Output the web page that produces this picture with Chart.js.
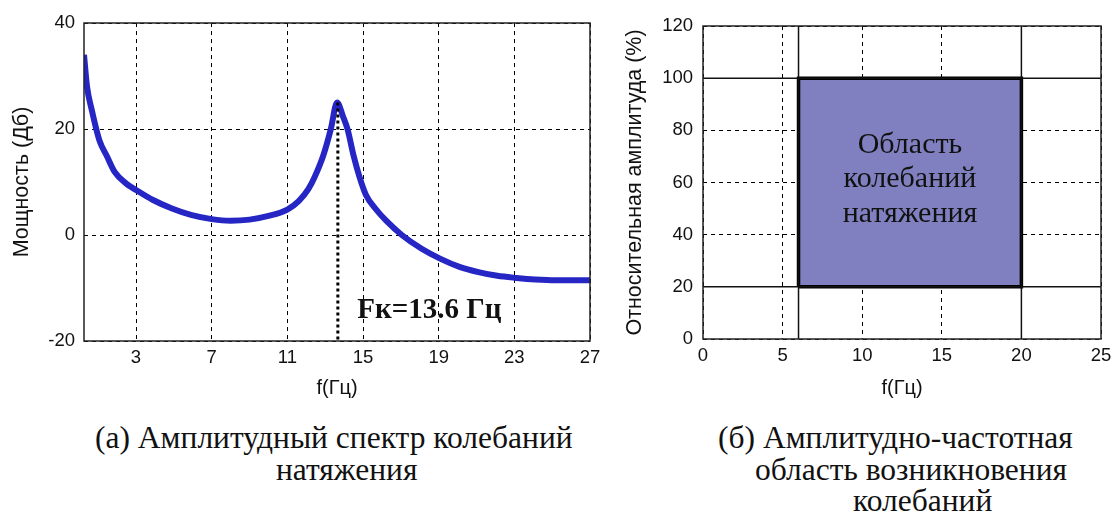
<!DOCTYPE html>
<html>
<head>
<meta charset="utf-8">
<script src="https://cdn.jsdelivr.net/npm/chart.js@4.4.1/dist/chart.umd.min.js"></script>
<style>
  html, body { margin: 0; padding: 0; background: #fff; }
  #wrap { position: relative; width: 1113px; height: 512px; overflow: hidden; }
  canvas { position: absolute; top: 0; }
  .cap { position: absolute; font-family: "Liberation Serif", "Times New Roman", serif; font-size: 31.5px; color: #111; white-space: nowrap; line-height: 1; }
</style>
</head>
<body>
<div id="wrap">
  <canvas id="c1" width="600" height="400" style="left:0px"></canvas>
  <canvas id="c2" width="513" height="400" style="left:600px"></canvas>
  <div class="cap" style="left:95px; top:422px;">(а) Амплитудный спектр колебаний</div>
  <div class="cap" style="left:276px; top:454px;">натяжения</div>
  <div class="cap" style="left:718px; top:422px;">(б) Амплитудно-частотная</div>
  <div class="cap" style="left:755px; top:454px;">область возникновения</div>
  <div class="cap" style="left:853px; top:485px;">колебаний</div>
</div>
<script>
// ---- Chart (a): spectrum ----
const freqA  = [0.25, 0.41, 0.66, 1.06, 1.47, 1.87, 2.48, 3.0, 3.9, 4.9, 5.9, 7.0, 8.0, 9.0, 10.0, 11.0, 11.6, 12.1, 12.45, 12.9, 13.3, 13.63, 13.95, 14.18, 14.5, 14.81, 15.15, 15.65, 16.25, 17.05, 18.1, 19.1, 20.1, 21.1, 22.1, 23.1, 24.1, 25.2, 27];
const powerA = [34.0, 28.0, 23.6, 17.9, 14.8, 11.9, 9.7, 8.5, 6.6, 5.0, 3.8, 3.0, 2.7, 2.9, 3.6, 4.8, 6.4, 8.6, 11.0, 15.0, 20.0, 25.0, 22.3, 20.0, 15.0, 11.0, 7.6, 5.0, 2.6, 0.0, -2.6, -4.5, -6.0, -7.0, -7.7, -8.1, -8.4, -8.55, -8.55];
const xTicksA = [3, 7, 11, 15, 19, 23, 27];
const yTicksA = [-20, 0, 20, 40];
const fkValue = 13.67;
const fkPeak = 25.0;
const fkLabel = "Fк=13.6 Гц";
const fkLabelPos = [14.7, -15.7];

// ---- Chart (b): region ----
const xTicksB = [0, 5, 10, 15, 20, 25];
const yTicksB = [0, 20, 40, 60, 80, 100, 120];
const regionF = [6, 20];
const regionA = [20, 100];
const regionText = ["Область", "колебаний", "натяжения"];

const axisTitleA_y = "Мощность (Дб)";
const axisTitleB_y = "Относительная амплитуда (%)";
const axisTitleX = "f(Гц)";

const tickFont = { family: "'Liberation Sans', Arial, sans-serif", size: 18.5 };
const yTitleFont = { family: "'Liberation Sans', Arial, sans-serif", size: 21.5 };
const xTitleFont = { family: "'Liberation Sans', Arial, sans-serif", size: 20 };
const gridOpts = { color: '#000', lineWidth: 1, drawTicks: false };
const borderOpts = { display: false, dash: [4, 4] };

const frame = {
  id: 'frame',
  afterDraw(chart) {
    const a = chart.chartArea, c = chart.ctx;
    c.save();
    c.strokeStyle = '#222';
    c.lineWidth = 1.5;
    c.strokeRect(a.left, a.top, a.right - a.left, a.bottom - a.top);
    c.restore();
  }
};

const fkText = {
  id: 'fkText',
  afterDatasetsDraw(chart) {
    const c = chart.ctx, x = chart.scales.x, y = chart.scales.y;
    c.save();
    c.font = "bold 29px 'Liberation Serif', 'Times New Roman', serif";
    c.fillStyle = '#111';
    c.textAlign = 'left';
    c.textBaseline = 'alphabetic';
    c.fillText(fkLabel, x.getPixelForValue(fkLabelPos[0]), y.getPixelForValue(fkLabelPos[1]));
    c.restore();
  }
};

function fixTicks(list) {
  return function(scale) { scale.ticks = list.map(v => ({ value: v })); };
}
function fitX(h) {
  return function(s) { s.height = h; s.paddingLeft = 0; s.paddingRight = 0; };
}
function fitY(w) {
  return function(s) { s.width = w; s.paddingTop = 0; s.paddingBottom = 0; };
}

new Chart(document.getElementById('c1'), {
  type: 'line',
  data: {
    datasets: [
      {
        data: [{ x: fkValue, y: fkPeak }, { x: fkValue, y: yTicksA[0] }],
        borderColor: '#000', borderWidth: 3, borderDash: [3, 3],
        pointRadius: 0, order: 0, tension: 0
      },
      {
        data: freqA.map((f, i) => ({ x: f, y: powerA[i] })),
        borderColor: '#2626C4', borderWidth: 6,
        pointRadius: 0, order: 1, cubicInterpolationMode: 'monotone',
        borderCapStyle: 'butt'
      }
    ]
  },
  options: {
    responsive: false, animation: false,
    layout: { padding: { top: 23, right: 10, bottom: 0, left: 0 } },
    plugins: { legend: { display: false }, tooltip: { enabled: false } },
    scales: {
      x: {
        type: 'linear', min: freqA[0], max: xTicksA[xTicksA.length - 1],
        afterBuildTicks: fixTicks(xTicksA),
        afterFit: fitX(59),
        grid: gridOpts, border: borderOpts,
        ticks: { color: '#111', font: tickFont, padding: 6, maxRotation: 0, autoSkip: false },
        title: { display: true, text: axisTitleX, color: '#111', font: xTitleFont, padding: { top: 0, bottom: 0 } }
      },
      y: {
        type: 'linear', min: yTicksA[0], max: yTicksA[yTicksA.length - 1],
        afterBuildTicks: fixTicks(yTicksA),
        afterFit: fitY(84),
        grid: gridOpts, border: borderOpts,
        ticks: { color: '#111', font: tickFont, padding: 9 },
        title: { display: true, text: axisTitleA_y, color: '#111', font: yTitleFont, padding: { top: 9, bottom: 0 } }
      }
    }
  },
  plugins: [frame, fkText]
});

const regionLabel = {
  id: 'regionLabel',
  afterDatasetsDraw(chart) {
    const c = chart.ctx, x = chart.scales.x, y = chart.scales.y;
    const cx = x.getPixelForValue((regionF[0] + regionF[1]) / 2);
    const cy = y.getPixelForValue((regionA[0] + regionA[1]) / 2);
    c.save();
    c.font = "30px 'Liberation Serif', 'Times New Roman', serif";
    c.fillStyle = '#111';
    c.textAlign = 'center';
    c.textBaseline = 'alphabetic';
    const lh = 34.5;
    regionText.forEach((t, i) => c.fillText(t, cx, cy + 4.5 + (i - 1) * lh));
    c.restore();
  }
};

const xMinB = xTicksB[0], xMaxB = xTicksB[xTicksB.length - 1];
const yMinB = yTicksB[0], yMaxB = yTicksB[yTicksB.length - 1];

const solidLines = [];
regionA.forEach(a => solidLines.push({
  data: [{ x: xMinB, y: a }, { x: xMaxB, y: a }],
  borderColor: '#111', borderWidth: 1.5, pointRadius: 0, order: 0, fill: false
}));
regionF.forEach(f => solidLines.push({
  data: [{ x: f, y: yMinB }, { x: f, y: yMaxB }],
  borderColor: '#111', borderWidth: 1.5, pointRadius: 0, order: 0, fill: false
}));

new Chart(document.getElementById('c2'), {
  type: 'line',
  data: {
    datasets: [
      ...solidLines,
      {
        data: [
          { x: regionF[0], y: regionA[0] }, { x: regionF[1], y: regionA[0] },
          { x: regionF[1], y: regionA[1] }, { x: regionF[0], y: regionA[1] },
          { x: regionF[0], y: regionA[0] }
        ],
        borderColor: '#000', borderWidth: 3.5, backgroundColor: '#8080C0',
        fill: 'shape', pointRadius: 0, tension: 0, order: 1, borderJoinStyle: 'miter'
      }
    ]
  },
  options: {
    responsive: false, animation: false,
    layout: { padding: { top: 26, right: 12, bottom: 0, left: 0 } },
    plugins: { legend: { display: false }, tooltip: { enabled: false } },
    scales: {
      x: {
        type: 'linear', min: xMinB, max: xMaxB,
        afterBuildTicks: fixTicks(xTicksB),
        afterFit: fitX(61),
        grid: gridOpts, border: borderOpts,
        ticks: { color: '#111', font: tickFont, padding: 6, maxRotation: 0, autoSkip: false },
        title: { display: true, text: axisTitleX, color: '#111', font: xTitleFont, padding: { top: 0, bottom: 0 } }
      },
      y: {
        type: 'linear', min: yMinB, max: yMaxB,
        afterBuildTicks: fixTicks(yTicksB),
        afterFit: fitY(103),
        grid: gridOpts, border: borderOpts,
        ticks: { color: '#111', font: tickFont, padding: 10 },
        title: { display: true, text: axisTitleB_y, color: '#111', font: yTitleFont, padding: { top: 22, bottom: 0 } }
      }
    }
  },
  plugins: [frame, regionLabel]
});
</script>
</body>
</html>
